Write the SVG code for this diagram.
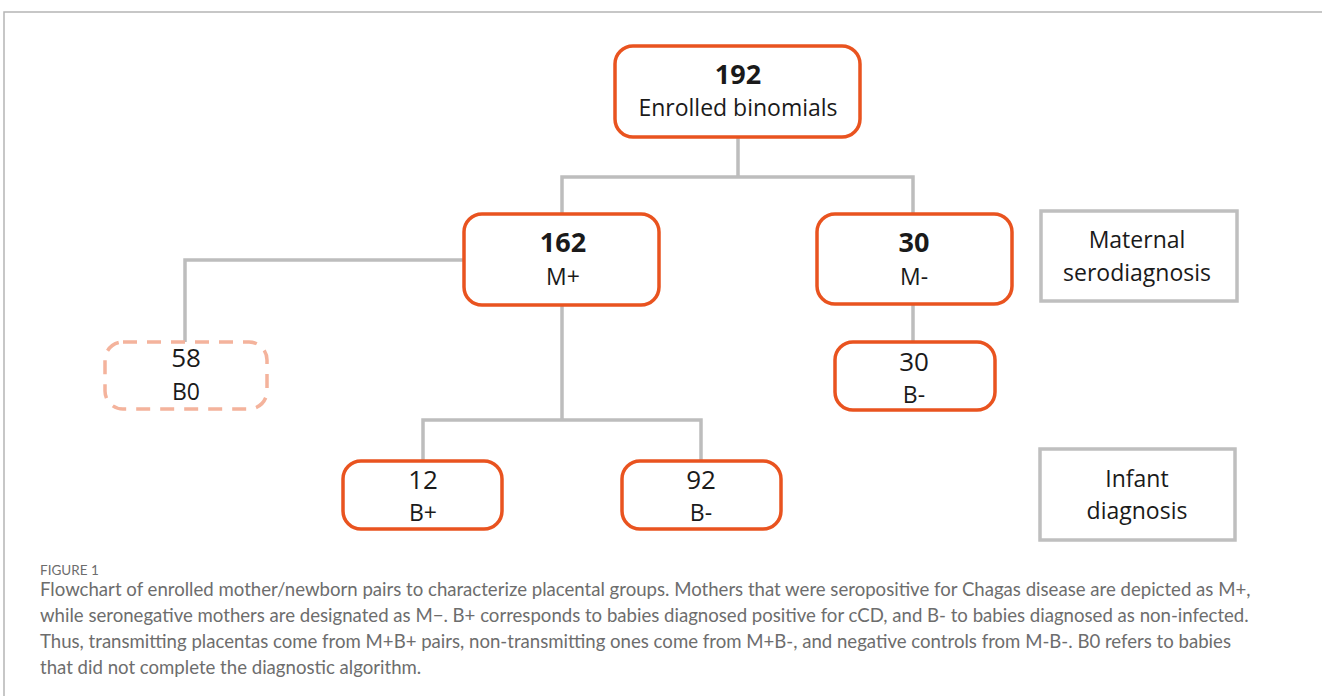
<svg xmlns="http://www.w3.org/2000/svg" width="1322" height="696" viewBox="0 0 1322 696">
<style>
.node{fill:#fff;stroke:#E9531F;stroke-width:3.5}
.dash{fill:#fff;stroke:#F4B39C;stroke-width:3.5;stroke-dasharray:14 10}
.lab{fill:#fff;stroke:#BFBFBF;stroke-width:3.5}
.conn{fill:none;stroke:#BDBDBD;stroke-width:3.5}
.t{font-family:"Open Sans","Liberation Sans",sans-serif;font-size:23px;fill:#1a1a1a;text-anchor:middle}
.n{font-size:26px}
.b{font-weight:bold;font-size:27px}
.cap{font-family:Lato,"Open Sans",sans-serif;font-size:18.6px;fill:#6d6d6d}
.fig{font-size:13.5px}
</style>
<rect x="0" y="0" width="1322" height="696" fill="#fff"/>
<path d="M4,696 V12 H1322" fill="none" stroke="#b5b5b5" stroke-width="1.5"/>
<g id="connectors">
<path class="conn" d="M738,137 V177 M562,213 V177 H913 V213"/>
<path class="conn" d="M464,260 H185 V342"/>
<path class="conn" d="M562,305 V420 M423,460 V420 H701 V460"/>
<path class="conn" d="M913,304 V341"/>
</g>
<g id="n192"><rect class="node" x="615" y="46" width="245" height="91" rx="18"/>
<text class="t b" x="738" y="84">192</text><text class="t" x="738" y="116">Enrolled binomials</text></g>
<g id="n162"><rect class="node" x="464" y="214" width="195" height="91" rx="18"/>
<text class="t b" x="563" y="252">162</text><text class="t" x="563" y="285">M+</text></g>
<g id="n30m"><rect class="node" x="817" y="214" width="195" height="90" rx="18"/>
<text class="t b" x="914" y="252">30</text><text class="t" x="914" y="285">M-</text></g>
<g id="lmat"><rect class="lab" x="1041" y="211" width="196" height="90"/>
<text class="t" x="1137" y="248">Maternal</text><text class="t" x="1137" y="281">serodiagnosis</text></g>
<g id="n58"><rect class="dash" x="105" y="342" width="162" height="67" rx="18"/>
<text class="t n" x="186" y="367">58</text><text class="t" x="186" y="400">B0</text></g>
<g id="n30b"><rect class="node" x="835" y="342" width="160" height="68" rx="18"/>
<text class="t n" x="914" y="371">30</text><text class="t" x="914" y="403">B-</text></g>
<g id="n12"><rect class="node" x="343" y="461" width="159" height="68" rx="18"/>
<text class="t n" x="423" y="489">12</text><text class="t" x="423" y="521">B+</text></g>
<g id="n92"><rect class="node" x="622" y="461" width="159" height="68" rx="18"/>
<text class="t n" x="701" y="489">92</text><text class="t" x="701" y="521">B-</text></g>
<g id="linf"><rect class="lab" x="1040" y="449" width="195" height="91"/>
<text class="t" x="1137" y="487">Infant</text><text class="t" x="1137" y="519">diagnosis</text></g>
<g id="caption">
<text class="cap fig" x="40" y="575">FIGURE 1</text>
<text class="cap" x="40" y="596">Flowchart of enrolled mother/newborn pairs to characterize placental groups. Mothers that were seropositive for Chagas disease are depicted as M+,</text>
<text class="cap" x="40" y="622">while seronegative mothers are designated as M−. B+ corresponds to babies diagnosed positive for cCD, and B- to babies diagnosed as non-infected.</text>
<text class="cap" x="40" y="648">Thus, transmitting placentas come from M+B+ pairs, non-transmitting ones come from M+B-, and negative controls from M-B-. B0 refers to babies</text>
<text class="cap" x="40" y="674">that did not complete the diagnostic algorithm.</text>
</g>
</svg>
